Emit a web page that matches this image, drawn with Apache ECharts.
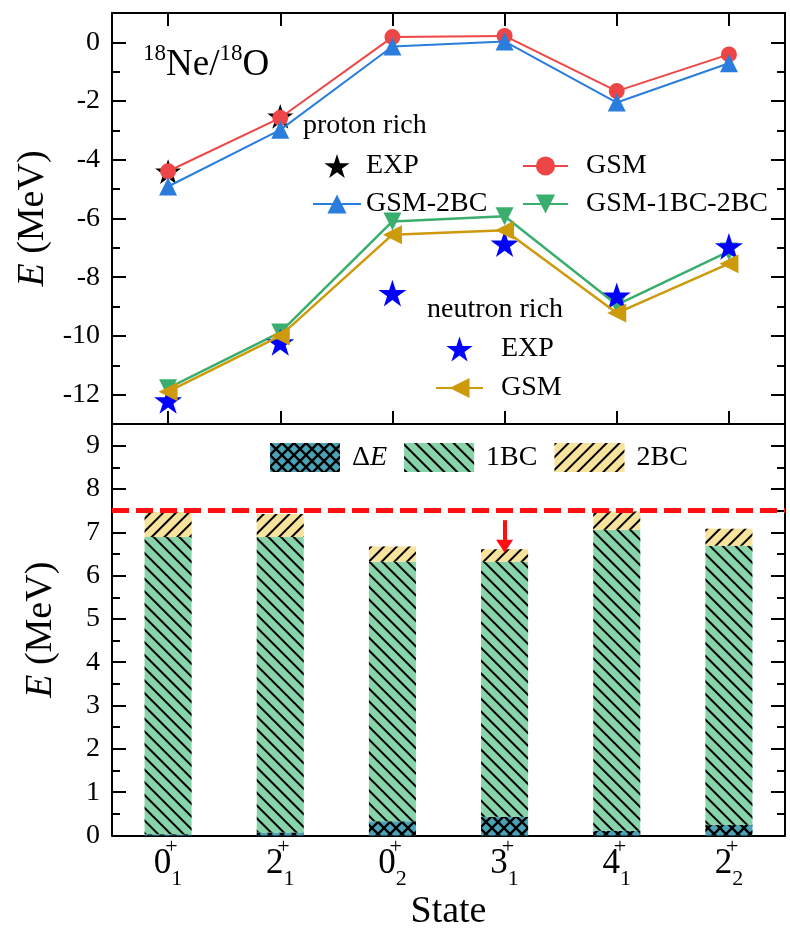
<!DOCTYPE html>
<html>
<head>
<meta charset="utf-8">
<script src="https://cdn.jsdelivr.net/npm/echarts@6/dist/echarts.min.js"></script>
<style>
  html, body { margin: 0; padding: 0; background: #ffffff; }
  #chart { width: 790px; height: 933px; }
</style>
</head>
<body>
<div id="chart"></div>
<script>
// States (J^pi_n)
const states = ['0+1', '2+1', '0+2', '3+1', '4+1', '2+2'];
const stateJ = ['0', '2', '0', '3', '4', '2'];
const stateN = ['1', '1', '2', '1', '1', '2'];

// Proton-rich side (18Ne), energies in MeV
const expProton = [-4.4, -2.52, null, null, null, null];
const gsmProton = [-4.39, -2.57, 0.18, 0.22, -1.66, -0.41];
const gsm2bcProton = [-4.91, -2.98, -0.14, 0.03, -2.05, -0.71];

// Neutron-rich side (18O), energies in MeV
const expNeutron = [-12.2, -10.22, -8.54, -6.86, -8.63, -6.95];
const gsm1bc2bcNeutron = [-11.78, -9.88, -6.1, -5.92, -8.94, -7.12];
const gsmNeutron = [-11.9, -10.0, -6.55, -6.4, -9.22, -7.54];

// Energy decomposition (MeV)
const deltaE = [0.03, 0.07, 0.33, 0.43, 0.11, 0.25];
const oneBC = [6.86, 6.82, 5.99, 5.89, 6.95, 6.44];
const twoBC = [0.58, 0.53, 0.35, 0.29, 0.42, 0.39];
const thresholdE = 7.5;
const arrowFrom = 7.28;
const arrowTo = 6.68;

// Tick values
const topMajorTicks = [0, -2, -4, -6, -8, -10, -12];
const topMinorTicks = [-1, -3, -5, -7, -9, -11];
const bottomMajorTicks = [0, 1, 2, 3, 4, 5, 6, 7, 8, 9];
const bottomMinorTicks = [0.5, 1.5, 2.5, 3.5, 4.5, 5.5, 6.5, 7.5, 8.5];

const legendNames = {
  'EXP-p': 'EXP', 'GSM-p': 'GSM', 'GSM-2BC': 'GSM-2BC', 'GSM-1BC-2BC': 'GSM-1BC-2BC',
  'EXP-n': 'EXP', 'GSM-n': 'GSM'
};

const SERIF = '"Liberation Serif", "DejaVu Serif", serif';
const BLACK = '#000000';
// five-pointed star marker
const STAR = 'path://M100,0L122.45,69.1L195.1,69.1L136.33,111.8L158.8,180.9L100,138.2L41.2,180.9L63.67,111.8L4.9,69.1L77.55,69.1Z';

const chart = echarts.init(document.getElementById('chart'), null, { renderer: 'canvas' });

function xAxisFor(gridIndex, position, withTicks, labels) {
  return {
    type: 'category',
    gridIndex: gridIndex,
    position: position,
    data: states,
    boundaryGap: true,
    axisLine: { show: true, onZero: false, lineStyle: { color: BLACK, width: 2 } },
    axisTick: { show: withTicks, inside: true, length: 13, alignWithLabel: true, interval: 0,
      lineStyle: { color: BLACK, width: 2 } },
    axisLabel: labels ? {
      show: true, interval: 0, margin: 1,
      formatter: function (v, i) {
        return '{j|' + stateJ[i] + '}{p|+}{n|' + stateN[i] + '}';
      },
      rich: {
        j: { fontSize: 35, fontFamily: SERIF, color: BLACK, lineHeight: 54, verticalAlign: 'middle' },
        p: { fontSize: 22, fontFamily: SERIF, color: BLACK, lineHeight: 54, verticalAlign: 'top', width: 0, align: 'left' },
        n: { fontSize: 22, fontFamily: SERIF, color: BLACK, lineHeight: 54, verticalAlign: 'bottom' }
      }
    } : { show: false },
    splitLine: { show: false },
    name: labels ? 'State' : '',
    nameLocation: 'middle',
    nameGap: 58,
    nameTextStyle: { fontSize: 38, fontFamily: SERIF, color: BLACK }
  };
}

function yAxisFor(gridIndex, position, min, max, ticks, tickLen, withLine, labels, withName) {
  return {
    type: 'value',
    gridIndex: gridIndex,
    position: position,
    min: min,
    max: max,
    axisLine: { show: withLine, onZero: false, lineStyle: { color: BLACK, width: 2 } },
    axisTick: { show: true, inside: true, length: tickLen, customValues: ticks,
      lineStyle: { color: BLACK, width: 2 } },
    axisLabel: labels ? {
      show: true, customValues: ticks, margin: 12,
      fontSize: 28, fontFamily: SERIF, color: BLACK
    } : { show: false },
    splitLine: { show: false },
    name: withName ? '{i|E} (MeV)' : '',
    nameLocation: 'middle',
    nameGap: withName ? 52 : 0,
    nameTextStyle: {
      fontSize: 38, fontFamily: SERIF, color: BLACK,
      rich: { i: { fontSize: 38, fontFamily: SERIF, fontStyle: 'italic', color: BLACK } }
    }
  };
}

const stripesDown = { symbol: 'rect', symbolSize: 1, color: BLACK,
  dashArrayX: [1, 0], dashArrayY: [2, 7], rotation: Math.PI / 4 };
const stripesUp = { symbol: 'rect', symbolSize: 1, color: BLACK,
  dashArrayX: [1, 0], dashArrayY: [2, 7], rotation: -Math.PI / 4 };
const crossHatch = {
  symbol: 'path://M0,0L1.4,0L10,8.6L10,10L8.6,10L0,1.4ZM8.6,0L10,0L10,1.4L1.4,10L0,10L0,8.6Z',
  symbolSize: 1, color: BLACK, dashArrayX: [12, 0], dashArrayY: [12, 0]
};

const legendText = { fontSize: 28, fontFamily: SERIF, color: BLACK };

const option = {
  animation: false,
  backgroundColor: '#ffffff',
  grid: [
    { left: 112, right: 5, top: 13, height: 411, containLabel: false, outerBoundsMode: 'none' },
    { left: 112, right: 5, top: 424, height: 411.5, containLabel: false, outerBoundsMode: 'none' }
  ],
  xAxis: [
    xAxisFor(0, 'bottom', true, false),
    xAxisFor(0, 'top', true, false),
    xAxisFor(1, 'bottom', false, true)
  ],
  yAxis: [
    yAxisFor(0, 'left', -13, 1, topMajorTicks, 14, true, true, true),
    yAxisFor(0, 'left', -13, 1, topMinorTicks, 8, false, false, false),
    yAxisFor(0, 'right', -13, 1, topMajorTicks, 14, true, false, false),
    yAxisFor(0, 'right', -13, 1, topMinorTicks, 8, false, false, false),
    yAxisFor(1, 'left', 0, 9.5, bottomMajorTicks, 14, true, true, true),
    yAxisFor(1, 'left', 0, 9.5, bottomMinorTicks, 8, false, false, false),
    yAxisFor(1, 'right', 0, 9.5, bottomMajorTicks, 14, true, false, false),
    yAxisFor(1, 'right', 0, 9.5, bottomMinorTicks, 8, false, false, false)
  ],
  legend: [
    {
      data: ['EXP-p', 'GSM-2BC'], orient: 'vertical', left: 312, top: 152,
      itemWidth: 48, itemHeight: 24, itemGap: 10, padding: 0,
      formatter: function (n) { return legendNames[n]; },
      textStyle: legendText, selectedMode: false
    },
    {
      data: ['GSM-p', 'GSM-1BC-2BC'], orient: 'vertical', left: 522, top: 152,
      itemWidth: 45, itemHeight: 24, itemGap: 10, padding: 0,
      formatter: function (n) { return legendNames[n]; },
      textStyle: Object.assign({ padding: [0, 0, 0, 13] }, legendText), selectedMode: false
    },
    {
      data: ['EXP-n', 'GSM-n'], orient: 'vertical', left: 435, top: 335,
      itemWidth: 47, itemHeight: 25, itemGap: 11, padding: 0,
      formatter: function (n) { return legendNames[n]; },
      textStyle: Object.assign({ padding: [0, 0, 0, 13] }, legendText), selectedMode: false
    },
    {
      data: ['ΔE', '1BC', '2BC'], orient: 'horizontal', left: 270, top: 443,
      itemWidth: 70, itemHeight: 29, itemGap: 17, padding: 0, icon: 'rect',
      formatter: function (n) { return n === 'ΔE' ? '{d|Δ}{i|E}' : n; },
      textStyle: Object.assign({
        padding: [0, 0, 0, 7],
        rich: {
          d: { fontSize: 28, fontFamily: SERIF, color: BLACK },
          i: { fontSize: 28, fontFamily: SERIF, fontStyle: 'italic', color: BLACK }
        }
      }, legendText),
      selectedMode: false
    }
  ],
  graphic: [
    {
      type: 'text', left: 143, top: 42, silent: true,
      style: {
        text: '{s|18}{m|Ne/}{s|18}{m|O}',
        rich: {
          m: { fontSize: 37, fontFamily: SERIF, fill: BLACK, lineHeight: 42, verticalAlign: 'bottom' },
          s: { fontSize: 23, fontFamily: SERIF, fill: BLACK, lineHeight: 42, verticalAlign: 'top' }
        }
      }
    },
    {
      type: 'text', left: 303, top: 112, silent: true,
      style: { text: 'proton rich', fontSize: 28, fontFamily: SERIF, fill: BLACK }
    },
    {
      type: 'text', left: 427, top: 296, silent: true,
      style: { text: 'neutron rich', fontSize: 28, fontFamily: SERIF, fill: BLACK }
    }
  ],
  series: [
    {
      name: 'EXP-p', type: 'scatter', xAxisIndex: 0, yAxisIndex: 0,
      data: expProton, symbol: STAR, symbolSize: 26, symbolKeepAspect: true,
      itemStyle: { color: BLACK, opacity: 1 }, z: 2
    },
    {
      name: 'GSM-p', type: 'line', xAxisIndex: 0, yAxisIndex: 0,
      data: gsmProton, symbol: 'circle', symbolSize: 16,
      lineStyle: { color: '#ee4646', width: 2 }, itemStyle: { color: '#ee4646', opacity: 1 }, z: 3
    },
    {
      name: 'GSM-2BC', type: 'line', xAxisIndex: 0, yAxisIndex: 0,
      data: gsm2bcProton, symbol: 'triangle', symbolSize: 18,
      lineStyle: { color: '#2a7ddc', width: 2 }, itemStyle: { color: '#2a7ddc', opacity: 1 }, z: 4
    },
    {
      name: 'GSM-1BC-2BC', type: 'line', xAxisIndex: 0, yAxisIndex: 0,
      data: gsm1bc2bcNeutron, symbol: 'triangle', symbolSize: 18, symbolRotate: 180,
      lineStyle: { color: '#3aae6e', width: 2.5 }, itemStyle: { color: '#3aae6e', opacity: 1 }, z: 2
    },
    {
      name: 'EXP-n', type: 'scatter', xAxisIndex: 0, yAxisIndex: 0,
      data: expNeutron, symbol: STAR, symbolSize: 28, symbolKeepAspect: true,
      itemStyle: { color: '#0000ff', opacity: 1 }, z: 3
    },
    {
      name: 'GSM-n', type: 'line', xAxisIndex: 0, yAxisIndex: 0,
      data: gsmNeutron, symbol: 'triangle', symbolSize: 19, symbolRotate: 90,
      lineStyle: { color: '#cc9a0a', width: 2.5 }, itemStyle: { color: '#cc9a0a', opacity: 1 }, z: 4
    },
    {
      name: 'ΔE', type: 'bar', xAxisIndex: 2, yAxisIndex: 4, stack: 'energy',
      data: deltaE, barWidth: 47,
      itemStyle: { color: '#49a2b6', decal: crossHatch }
    },
    {
      name: '1BC', type: 'bar', xAxisIndex: 2, yAxisIndex: 4, stack: 'energy',
      data: oneBC, barWidth: 47,
      itemStyle: { color: '#87d3aa', decal: stripesDown }
    },
    {
      name: '2BC', type: 'bar', xAxisIndex: 2, yAxisIndex: 4, stack: 'energy',
      data: twoBC, barWidth: 47,
      itemStyle: { color: '#f8e39d', decal: stripesUp },
      markLine: {
        silent: true, animation: false,
        symbol: ['none', 'none'],
        label: { show: false },
        data: [
          { yAxis: thresholdE, lineStyle: { color: '#ff1010', width: 5, type: [17, 7] } },
          [
            { coord: [states[3], arrowFrom], symbol: 'none' },
            { coord: [states[3], arrowTo], symbol: 'triangle', symbolSize: [17, 13],
              lineStyle: { color: '#ff1010', width: 4, type: 'solid' } }
          ]
        ]
      }
    }
  ]
};

chart.setOption(option);
</script>
</body>
</html>
